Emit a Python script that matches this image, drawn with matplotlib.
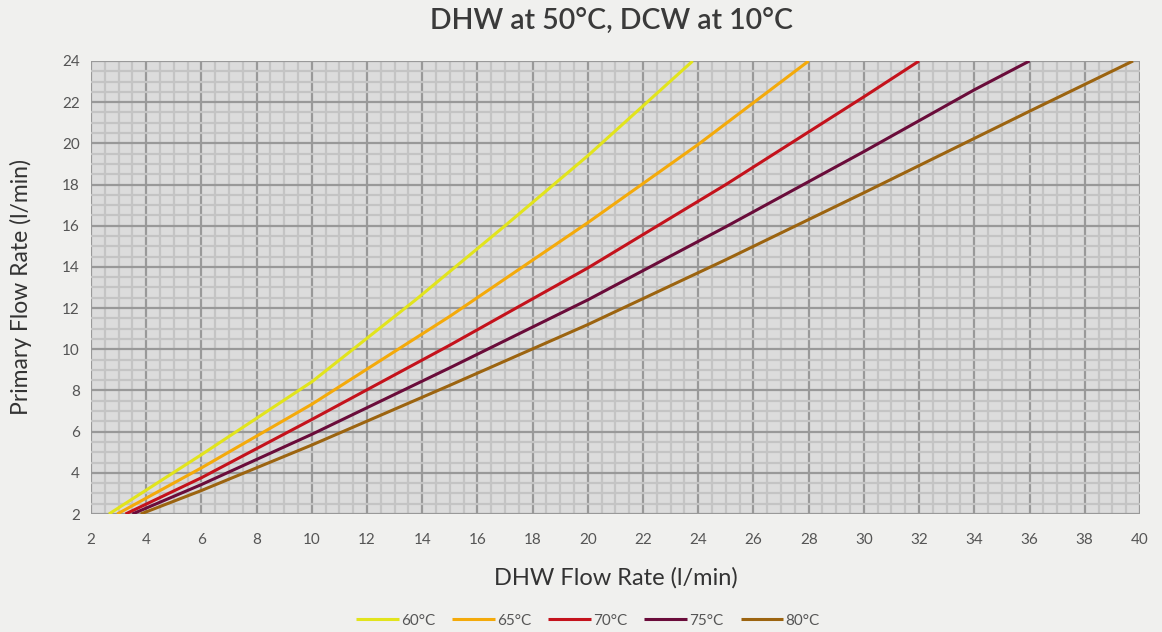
import matplotlib
matplotlib.use("Agg")
import matplotlib.pyplot as plt
import numpy as np

plt.rcParams['font.family'] = ['Lato', 'DejaVu Sans']

labels = ["60°C", "65°C", "70°C", "75°C", "80°C"]
colors = ["#E2E41C", "#F4AA0A", "#C4121C", "#6A0C3A", "#9C6410"]

x60 = [2.65, 6, 10, 13.76, 17, 20, 23.8]
y60 = [2, 4.88, 8.42, 12.4, 16.0, 19.4, 24]
x65 = [2.95, 6, 10, 15, 20, 24, 28]
y65 = [2, 4.24, 7.33, 11.6, 16.15, 19.95, 24]
x70 = [3.25, 6, 10, 15, 20, 25, 30, 32]
y70 = [2, 3.76, 6.59, 10.2, 13.95, 18.0, 22.26, 24]
x75 = [3.5, 6, 10, 15, 20, 25, 30, 34, 36.0]
y75 = [2, 3.43, 5.87, 9.1, 12.4, 15.95, 19.6, 22.6, 24]
x80 = [3.8, 6, 10, 15, 20, 25, 30, 36, 39.75]
y80 = [2, 3.14, 5.35, 8.25, 11.2, 14.35, 17.6, 21.56, 24]

series = [(x60, y60), (x65, y65), (x70, y70), (x75, y75), (x80, y80)]

fig = plt.figure(figsize=(11.62, 6.32), dpi=100)
fig.patch.set_facecolor("#F0F0EE")
ax = fig.add_axes([0.0783, 0.1867, 0.9027, 0.7168])
ax.set_facecolor("#DCDCDC")

ax.set_xlim(2, 40)
ax.set_ylim(2, 24)
ax.set_xticks(np.arange(2, 41, 2))
ax.set_yticks(np.arange(2, 25, 2))
ax.set_xticks(np.arange(2, 40.01, 0.5), minor=True)
ax.set_yticks(np.arange(2, 24.01, 0.5), minor=True)
ax.grid(which="minor", color="#C4C4C4", linewidth=1.6)
ax.grid(which="major", color="#999999", linewidth=1.6)
ax.set_axisbelow(True)
for s in ax.spines.values():
    s.set_visible(False)
ax.tick_params(which="both", length=0)
ax.tick_params(axis="both", labelsize=11, colors="#555555", pad=8)
ax.tick_params(axis="x", pad=14)

for (xs, ys), lab, c in zip(series, labels, colors):
    ax.plot(xs, ys, color=c, linewidth=2.2, label=lab, solid_capstyle="butt")

fig.suptitle("DHW at 50°C, DCW at 10°C", x=0.526, y=0.988, fontsize=20.5,
             fontweight="semibold", color="#3A3A3A")
ax.set_xlabel("DHW Flow Rate (l/min)", fontsize=17, color="#333333", labelpad=14)
ax.set_ylabel("Primary Flow Rate (l/min)", fontsize=16.5, color="#333333")
ax.yaxis.set_label_coords(-0.056, 0.5)

leg = fig.legend(loc="center", bbox_to_anchor=(0.506, 0.018), ncol=5, frameon=False,
                 fontsize=11, handlelength=2.8, handletextpad=0.15, columnspacing=1.1,
                 labelcolor="#555555")

fig.savefig("out.png", dpi=100, facecolor=fig.get_facecolor())
